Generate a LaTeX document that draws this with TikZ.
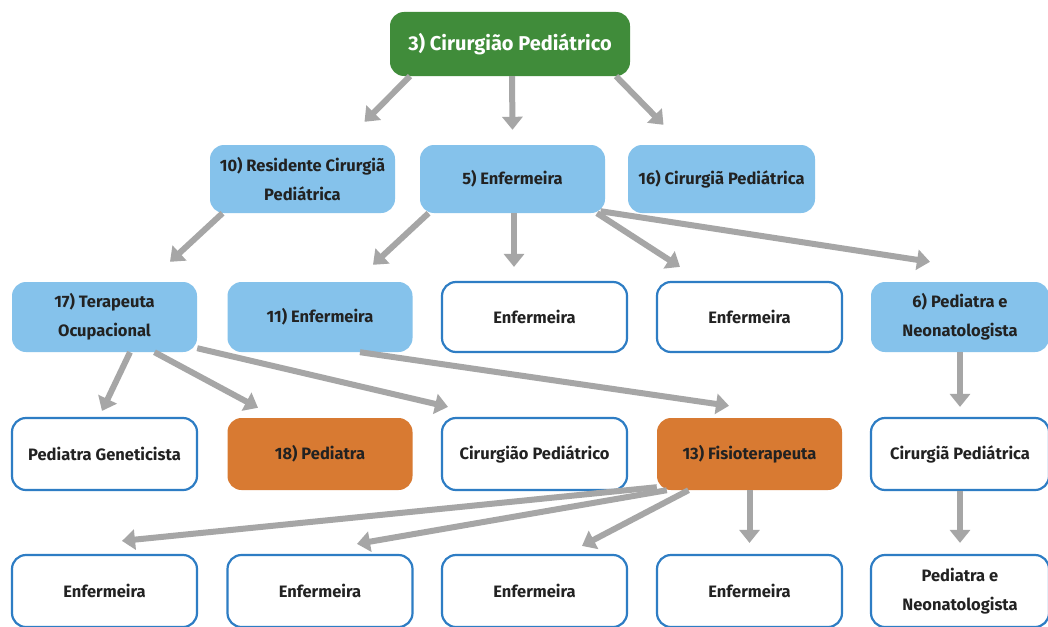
\documentclass[tikz,border=0pt]{standalone}
\usepackage{fontspec}
\setmainfont{Fira Sans}
\usetikzlibrary{arrows.meta}

\definecolor{rootgreen}{RGB}{64,140,58}
\definecolor{roleblue}{RGB}{133,194,235}
\definecolor{lineblue}{RGB}{46,125,196}
\definecolor{roleorange}{RGB}{216,122,50}
\definecolor{arrgray}{RGB}{166,166,166}
\definecolor{txtdark}{RGB}{34,34,34}

\begin{document}
\begin{tikzpicture}[x=1pt,y=-1pt,
    box/.style={rounded corners=14pt,inner sep=0pt,minimum width=185pt,minimum height=70pt,
        align=center,text=txtdark,font=\fontsize{16.5}{29}\selectfont\bfseries},
    bluebox/.style={box,fill=roleblue},
    whitebox/.style={box,draw=lineblue,line width=2.2pt,fill=white},
    orangebox/.style={box,fill=roleorange},
    arr/.style={draw=arrgray,line width=6pt,-{Triangle[length=13pt,width=20pt]}}]

% === Frame ===
\useasboundingbox (0,0) rectangle (1048,626);
\fill[white] (0,0) rectangle (1048,626);

% === Top: green root ===
\node[box,fill=rootgreen,text=white,minimum width=240pt,minimum height=64pt,
    font=\fontsize{20}{24}\selectfont\bfseries] (root) at (510,44) {3) Cirurgião Pediátrico};

% === Row 2 ===
\node[bluebox,minimum height=68pt] (resid) at (302.5,179) {10) Residente Cirurgiã\\Pediátrica};
\node[bluebox,minimum height=68pt] (enf5) at (512.5,179) {5) Enfermeira};
\node[bluebox,minimum height=68pt,minimum width=187pt] (cir16) at (721.5,179) {16) Cirurgiã Pediátrica};

% === Row 3 ===
\node[bluebox] (terap) at (104.5,317) {17) Terapeuta\\Ocupacional};
\node[bluebox] (enf11) at (320,317) {11) Enfermeira};
\node[whitebox] (enfa) at (534.5,317) {Enfermeira};
\node[whitebox] (enfb) at (749.5,317) {Enfermeira};
\node[bluebox,minimum width=178pt] (ped6) at (960,317) {6) Pediatra e\\Neonatologista};

% === Row 4 ===
\node[whitebox,minimum height=72pt] (pgen) at (104.5,454) {Pediatra Geneticista};
\node[orangebox,minimum height=72pt] (ped18) at (320,454) {18) Pediatra};
\node[whitebox,minimum height=72pt] (cirped) at (534.5,454) {Cirurgião Pediátrico};
\node[orangebox,minimum height=72pt] (fisio) at (749.5,454) {13) Fisioterapeuta};
\node[whitebox,minimum height=72pt,minimum width=178pt] (cirga) at (960,454) {Cirurgiã Pediátrica};

% === Row 5 ===
\node[whitebox,minimum height=72pt] (enfc) at (104.5,591) {Enfermeira};
\node[whitebox,minimum height=72pt] (enfd) at (320,591) {Enfermeira};
\node[whitebox,minimum height=72pt] (enfe) at (534.5,591) {Enfermeira};
\node[whitebox,minimum height=72pt] (enff) at (749.5,591) {Enfermeira};
\node[whitebox,minimum height=72pt,minimum width=178pt] (pneo) at (960,591) {Pediatra e\\Neonatologista};

% === Arrows ===
\draw[arr] ([xshift=-100pt]root.south) -- ([xshift=62pt,yshift=23pt]resid.north);
\draw[arr] ([xshift=2pt]root.south) -- ([yshift=15pt]enf5.north);
\draw[arr] ([xshift=106pt]root.south) -- ([xshift=-58pt,yshift=20pt]cir16.north);

\draw[arr] ([xshift=-80pt]resid.south) -- ([xshift=65.5pt,yshift=20pt]terap.north);
\draw[arr] ([xshift=-84pt]enf5.south) -- ([xshift=53pt,yshift=17pt]enf11.north);
\draw[arr] ([xshift=1.5pt]enf5.south) -- ([xshift=-20.5pt,yshift=14pt]enfa.north);
\draw[arr] ([xshift=84.5pt]enf5.south) -- ([xshift=-69.5pt,yshift=14pt]enfb.north);
\draw[arr] ([xshift=88pt,yshift=2pt]enf5.south) -- ([xshift=-30pt,yshift=20pt]ped6.north);

\draw[arr] ([xshift=25.5pt]terap.south) -- ([xshift=-2.5pt,yshift=6pt]pgen.north);
\draw[arr] ([xshift=50pt]terap.south) -- ([xshift=-62pt,yshift=10pt]ped18.north);
\draw[arr] ([yshift=4pt]terap.south east) -- ([xshift=-86.5pt,yshift=10pt]cirped.north);
\draw[arr] ([xshift=40pt]enf11.south) -- ([xshift=-20.5pt,yshift=12pt]fisio.north);
\draw[arr] (ped6.south) -- ([yshift=10pt]cirga.north);

\draw[arr] ([yshift=3pt]fisio.south west) -- ([xshift=17.5pt,yshift=13pt]enfc.north);
\draw[arr] ([xshift=10pt]fisio.south west) -- ([xshift=37pt,yshift=10pt]enfd.north);
\draw[arr] ([xshift=-61pt]fisio.south) -- ([xshift=47.5pt,yshift=8pt]enfe.north);
\draw[arr] (fisio.south) -- ([yshift=11pt]enff.north);
\draw[arr] (cirga.south) -- ([yshift=11pt]pneo.north);

\end{tikzpicture}
\end{document}
